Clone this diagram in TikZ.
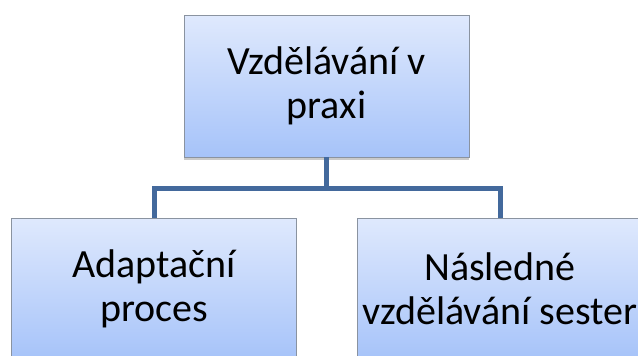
\documentclass[tikz,border=0pt]{standalone}
\usepackage{fontspec}
\setmainfont{Carlito}
\usetikzlibrary{shadows,calc}
\definecolor{topfill}{HTML}{DFE9FD}
\definecolor{botfill}{HTML}{A6C3F9}
\definecolor{edge}{HTML}{8A93A0}
\definecolor{conn}{HTML}{43699C}
\tikzset{
  box/.style={draw=edge, line width=0.8pt, top color=topfill, bottom color=botfill,
    minimum width=285pt, minimum height=142pt, inner sep=0pt, align=center,
    font=\fontsize{40}{44}\selectfont,
    drop shadow={shadow xshift=0pt, shadow yshift=-3pt, opacity=0.35, fill=black!60}},
  link/.style={draw=conn, line width=5pt}
}
\begin{document}
\begin{tikzpicture}[x=1pt,y=-1pt]
\useasboundingbox (0,0) rectangle (638,356);
\clip (0,0) rectangle (638,356);
\node[box] (top) at (326.5,86) {Vzdělávání v\\praxi};
\node[box] (left) at (154,289) {Adaptační\\proces};
\node[box] (right) at (500,289) {Následné\\vzdělávání sester};
\coordinate (mid) at (326.5,188);
\draw[link] (top.south) -- (mid);
\draw[link] (left.north) |- (mid) -| (right.north);
\end{tikzpicture}
\end{document}
